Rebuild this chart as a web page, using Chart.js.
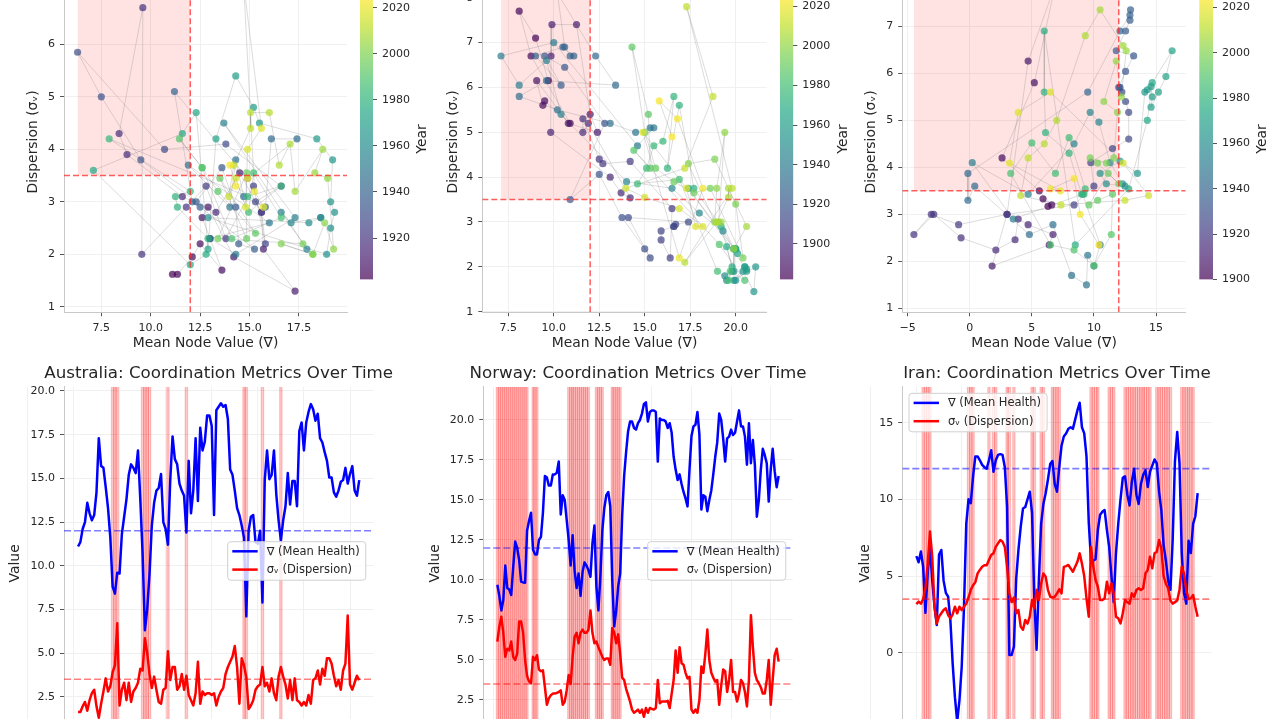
<!DOCTYPE html>
<html><head><meta charset="utf-8">
<script src="https://cdn.jsdelivr.net/npm/chart.js@4.4.1/dist/chart.umd.min.js"></script>
<style>
html,body{margin:0;padding:0;background:#fff;}
body{width:1280px;height:719px;overflow:hidden;position:relative;}
canvas{position:absolute;display:block;}
</style></head>
<body>
<canvas id="scAus" width="420" height="400" style="left:0px;top:-40px"></canvas>
<canvas id="scNor" width="420" height="400" style="left:420px;top:-40px"></canvas>
<canvas id="scIrn" width="420" height="400" style="left:850px;top:-40px"></canvas>
<canvas id="cbAus" width="90" height="340" style="left:350px;top:-40px"></canvas>
<canvas id="cbNor" width="90" height="340" style="left:770px;top:-40px"></canvas>
<canvas id="cbIrn" width="90" height="340" style="left:1189px;top:-40px"></canvas>
<canvas id="lnAus" width="420" height="440" style="left:0px;top:360px"></canvas>
<canvas id="lnNor" width="420" height="440" style="left:420px;top:360px"></canvas>
<canvas id="lnIrn" width="420" height="440" style="left:850px;top:360px"></canvas>
<script>
// ---------------- DATA ----------------
const AUS_FIRST_YEAR = 1902;
const NOR_FIRST_YEAR = 1882;
const IRN_FIRST_YEAR = 1900;

// Australia: mean node value (∇) and dispersion (σᵥ), one value per year
const AUS_V = [11.1,11.35,12.1,12.5,13.6,13.0,12.6,12.9,14.2,17.3,15.7,15.6,14.5,13.3,11.6,8.8,8.4,9.6,9.55,11.8,
12.8,13.8,15.2,15.8,15.6,15.3,16.6,13.8,10.7,6.3,7.5,9.5,12.3,13.6,14.3,14.45,15.25,12.5,12.1,11.2,
14.9,17.4,16.1,15.8,14.7,14.3,14.0,11.9,16.0,13.0,14.3,17.3,13.7,17.9,16.6,17.1,18.6,18.6,18.0,12.9,
18.9,19.1,19.3,19.1,19.2,18.4,15.5,15.2,14.3,13.3,12.9,12.3,11.6,7.1,12.0,12.8,12.9,11.35,11.25,12.0,
7.9,14.9,16.6,14.95,15.2,16.6,14.1,12.6,11.45,12.6,13.4,15.3,13.5,14.85,14.85,13.4,17.7,18.2,16.6,18.2,
18.8,19.25,18.95,18.3,18.7,17.3,17.05,16.5,16.0,15.05,15.05,14.2,13.95,14.3,14.8,14.9,15.6,14.7,15.25,15.7,
14.3,14.0,14.9];
const AUS_S = [1.62,1.62,1.95,2.2,1.7,2.3,2.7,2.9,1.95,1.3,2.1,2.8,3.55,2.8,3.1,3.9,4.3,6.7,2.0,2.9,
3.3,2.3,3.3,2.2,2.8,3.0,3.3,4.1,4.0,5.85,5.0,3.8,3.0,3.65,2.9,2.2,2.1,2.9,3.0,5.1,
3.45,4.2,4.2,2.9,3.1,3.8,2.9,3.7,2.6,2.3,2.0,2.7,4.5,2.1,2.8,2.6,2.7,2.7,2.6,2.7,
2.0,2.5,2.8,3.0,3.8,4.2,4.5,4.8,5.4,4.2,2.1,4.7,4.3,3.6,1.8,2.0,2.3,2.9,3.1,3.2,
4.2,3.1,3.3,2.8,3.55,2.7,2.3,3.65,4.2,3.65,3.2,2.4,3.45,2.3,3.55,2.3,2.2,2.0,2.2,2.0,
2.6,2.1,3.45,3.55,4.0,3.2,4.1,3.7,4.7,4.7,4.4,3.7,3.1,3.45,2.9,4.0,4.4,7.15,3.2,2.9,
3.3,3.7,3.45];
const AUS_CRISIS = [1917,1918,1919,1930,1931,1932,1933,1941,1949,1974,1975,1982,1990];

// Norway
const NOR_V = [9.7,9.0,8.1,8.75,10.9,9.5,9.4,9.06,10.8,12.4,12.0,11.25,9.9,9.85,9.83,13.1,13.7,14.2,11.9,11.6,
11.6,12.5,12.7,14.2,16.5,16.4,15.9,15.9,16.6,16.6,16.7,17.4,14.1,15.3,15.0,13.75,12.5,10.9,12.8,10.6,
9.5,10.4,9.0,10.5,11.1,10.9,10.6,10.2,12.3,13.4,9.6,8.1,10.2,13.1,14.5,15.3,15.5,14.6,10.0,7.1,
8.1,9.6,10.4,14.0,16.5,18.0,19.3,19.9,19.9,19.5,19.4,19.8,20.0,20.4,21.0,21.1,19.9,20.5,20.6,20.6,
20.5,17.4,20.1,20.0,20.0,19.9,19.5,19.8,19.2,17.7,16.9,16.25,16.6,16.0,15.5,15.1,14.6,16.9,19.0,19.6,
19.7,20.5,19.1,14.4,15.3,15.2,14.3,15.0,15.6,16.6,17.7,18.6,20.4,20.0,18.85,17.4,18.85,18.96,19.4,19.06,
19.2,19.9,20.6,19.6,19.6,18.96,17.2,19.8,17.3,18.75,17.2,13.96,15.0,16.9,18.2,17.8,17.3,14.9,16.9,18.2,
16.8,15.8,16.5];
const NOR_S = [6.15,7.1,7.7,6.7,5.2,5.7,5.6,6.15,5.2,5.0,5.4,7.4,7.4,6.7,5.0,4.0,3.65,3.54,5.2,5.0,
5.3,4.4,4.3,4.35,3.3,2.2,2.6,2.8,2.9,2.9,2.95,3.0,3.1,2.2,2.4,3.1,4.06,3.5,5.2,6.45,
6.7,6.05,6.7,6.9,6.7,6.7,6.9,8.1,6.7,6.05,6.15,5.8,5.5,5.2,5.0,5.1,5.1,4.7,7.0,6.7,
6.05,6.6,5.4,3.9,3.75,3.2,2.8,2.4,1.9,1.7,1.8,1.9,1.7,1.9,1.45,2.0,1.7,2.0,1.95,1.9,
2.0,3.75,2.3,2.4,2.4,2.4,2.45,2.0,2.9,3.75,5.6,4.2,5.8,4.8,4.7,4.2,3.85,3.95,1.9,1.7,
1.9,1.7,2.5,4.6,4.2,5.4,6.9,5.0,4.2,3.9,3.65,3.75,2.2,3.4,4.4,4.3,3.0,3.75,5.0,3.0,
3.0,2.4,2.9,3.75,3.55,3.0,2.1,3.75,7.8,5.8,4.2,3.75,3.55,3.3,2.9,2.9,3.75,5.0,2.2,3.75,
5.3,5.7,4.9];
const NOR_CRISIS = [1882,1883,1884,1885,1886,1887,1888,1889,1890,1891,1892,1893,1894,1895,1896,1897,1900,1901,1902,
1918,1919,1920,1921,1922,1923,1924,1925,1926,1927,1928,1932,1933,1934,1935,1940,1941,1942,1943,1944];

// Iran
const IRN_V = [6.3,5.9,6.6,5.6,2.6,5.2,6.9,4.7,3.0,1.8,6.4,6.7,4.7,3.9,3.65,2.1,-0.7,-2.9,-4.5,-3.1,
-0.9,3.0,8.4,10.0,9.75,11.5,12.8,12.8,12.55,12.25,12.1,12.0,12.55,13.2,11.8,12.55,12.9,12.95,12.9,12.1,
9.5,-0.15,-0.15,0.4,4.8,6.7,8.2,9.4,9.5,10.0,10.5,9.1,3.5,0.2,4.7,8.4,9.7,10.4,11.3,12.3,
12.5,11.0,10.5,12.1,13.5,14.1,14.3,14.6,14.7,14.6,15.2,15.8,16.3,14.7,14.3,12.8,8.5,6.0,6.0,6.1,
8.0,9.0,9.2,9.3,8.0,6.9,5.0,3.3,6.5,8.4,10.0,11.4,11.5,10.3,9.6,11.15,12.0,10.3,9.7,11.0,
11.6,11.9,10.8,11.8,12.2,12.6,12.35,10.5,9.3,7.0,6.0,4.7,4.1,7.35,12.5,14.4,12.35,6.5,3.9,3.2,
7.3,6.5,8.4,8.9,10.4];
const IRN_S = [3.17,3.33,3.2,3.5,4.2,5.8,7.9,6.26,3.0,1.9,2.35,2.57,2.78,2.9,2.46,2.24,2.5,3.0,2.57,3.0,
2.78,3.0,3.2,3.6,4.1,4.4,4.6,5.17,5.4,5.6,5.7,5.7,6.04,6.37,6.48,6.9,7.13,7.35,7.24,6.9,
5.6,3.87,3.3,3.6,2.57,2.78,1.7,1.5,2.13,1.9,2.35,3.43,2.9,4.1,3.43,4.5,5.17,4.96,4.1,3.65,
3.6,3.65,3.87,4.13,3.87,5.6,5.65,5.72,5.5,5.28,5.6,5.93,6.48,5.8,5.0,3.54,2.35,6.9,5.6,4.74,
4.3,3.43,3.43,3.54,4.63,3.87,4.52,3.87,2.35,2.24,1.91,2.57,3.43,3.3,3.2,3.87,3.65,4.09,4.2,4.09,
4.2,5.17,5.4,6.26,5.5,6.48,6.59,7.35,6.8,5.0,4.5,4.2,3.4,3.2,3.3,3.4,4.09,5.6,5.17,4.09,
3.5,3.54,3.76,3.0,2.35];
const IRN_CRISIS = [1903,1904,1905,1906,1923,1924,1925,1932,1934,1935,1940,1941,1943,1951,1952,1955,1956,
1960,1961,1962,1963,1977,1978,1979,1980,1985,1986,1987,1992,1993,1994,1995,1996,1997,1998,1999,2000,2001,
2002,2003,2006,2007,2008,2009,2010,2011,2012,2017,2018,2019,2020,2021,2022];

// Thresholds
const V_THRESHOLD = 12;
const S_THRESHOLD = 3.5;

// Tick values and labels
const AUS_SC_XTICKS = [7.5,10,12.5,15,17.5];
const AUS_SC_XLABELS = ['7.5','10.0','12.5','15.0','17.5'];
const NOR_SC_XTICKS = [7.5,10,12.5,15,17.5,20];
const NOR_SC_XLABELS = ['7.5','10.0','12.5','15.0','17.5','20.0'];
const IRN_SC_XTICKS = [-5,0,5,10,15];
const IRN_SC_XLABELS = ['\u22125','0','5','10','15'];
const SC_YTICKS = [1,2,3,4,5,6,7,8];
const SC_YLABELS = ['1','2','3','4','5','6','7','8'];
const AUS_CB_TICKS = [1920,1940,1960,1980,2000,2020];
const NOR_CB_TICKS = [1900,1920,1940,1960,1980,2000,2020];
const IRN_CB_TICKS = [1900,1920,1940,1960,1980,2000,2020];
const LN_YTICKS_A = [2.5,5,7.5,10,12.5,15,17.5,20];
const LN_YLABELS_A = ['2.5','5.0','7.5','10.0','12.5','15.0','17.5','20.0'];
const LN_YTICKS_I = [-5,0,5,10,15];
const LN_YLABELS_I = ['\u22125','0','5','10','15'];
const LN_XTICKS = [1880,1900,1920,1940,1960,1980,2000,2020];

// ---------------- STYLE / HELPERS ----------------
const FONT = "'DejaVu Sans', sans-serif";
const TXT = '#262626';
const GRID = '#f0f0f0';
const SPINE = '#c8c8c8';
const TICKC = '#555555';
Chart.defaults.font.family = FONT;
Chart.defaults.color = TXT;
Chart.defaults.animation = false;
Chart.defaults.responsive = false;
Chart.defaults.plugins.legend.display = false;
Chart.defaults.plugins.tooltip.enabled = false;

const VIRIDIS = [[68,1,84],[72,36,117],[65,68,135],[53,95,141],[42,120,142],[33,145,140],[34,168,132],[68,191,112],[122,209,81],[189,223,38],[253,231,37]];
function viridis(t, a){
  t = Math.max(0, Math.min(1, t));
  const p = t*10, i = Math.min(9, Math.floor(p)), f = p - i;
  const c0 = VIRIDIS[i], c1 = VIRIDIS[i+1];
  const c = c0.map((v,k)=>Math.round(v + (c1[k]-v)*f));
  return `rgba(${c[0]},${c[1]},${c[2]},${a})`;
}

function fixedAxis(values, labels, extra){
  return Object.assign({
    afterBuildTicks: ax => { ax.ticks = values.map(v => ({value: v})); },
    ticks: {autoSkip:false, maxRotation:0, minRotation:0, font:{size:11}, color:TXT, padding:5,
            callback: (v, i) => labels ? labels[i] : String(v)}
  }, extra);
}

const axTitle = {
  id: 'axTitle',
  afterDraw(chart, args, o){
    if (!o || !o.text) return;
    const ctx = chart.ctx, ca = chart.chartArea;
    ctx.save();
    ctx.font = `16.7px ${FONT}`;
    ctx.fillStyle = TXT; ctx.textAlign = 'center'; ctx.textBaseline = 'alphabetic';
    ctx.fillText(o.text, (ca.left + ca.right)/2, ca.top - 8.5);
    ctx.restore();
  }
};
const cbTitle = {
  id: 'cbTitle',
  afterDraw(chart, args, o){
    if (!o || !o.text) return;
    const ctx = chart.ctx, ca = chart.chartArea;
    ctx.save();
    ctx.translate(ca.right + o.offset, (ca.top + ca.bottom)/2);
    ctx.rotate(-Math.PI/2);
    ctx.font = `13.9px ${FONT}`;
    ctx.fillStyle = TXT; ctx.textAlign = 'center'; ctx.textBaseline = 'middle';
    ctx.fillText(o.text, 0, 0);
    ctx.restore();
  }
};
const crisisSpans = {
  id: 'crisisSpans',
  beforeDatasetsDraw(chart, args, o){
    if (!o || !o.years) return;
    const ctx = chart.ctx, ca = chart.chartArea, xs = chart.scales.x;
    ctx.save();
    ctx.beginPath(); ctx.rect(ca.left, ca.top, ca.right-ca.left, ca.bottom-ca.top); ctx.clip();
    o.years.forEach(y => {
      const x0 = xs.getPixelForValue(y - 0.5), x1 = xs.getPixelForValue(y + 0.5);
      ctx.fillStyle = 'rgba(255,0,0,0.2)';
      ctx.fillRect(x0, ca.top, x1 - x0, ca.bottom - ca.top);
      ctx.strokeStyle = 'rgba(255,0,0,0.2)'; ctx.lineWidth = 1.3;
      ctx.beginPath(); ctx.moveTo(x0, ca.top); ctx.lineTo(x0, ca.bottom);
      ctx.moveTo(x1, ca.top); ctx.lineTo(x1, ca.bottom); ctx.stroke();
    });
    ctx.restore();
  }
};
const boxLegend = {
  id: 'boxLegend',
  afterDraw(chart, args, o){
    if (!o || !o.show) return;
    const ctx = chart.ctx, ca = chart.chartArea;
    const items = chart.data.datasets.filter(d => d.label);
    ctx.save();
    ctx.font = `11.5px ${FONT}`;
    const tw = Math.max(...items.map(d => ctx.measureText(d.label).width));
    const x = ca.left + o.dx, y = ca.top + o.dy, w = 39 + tw + 6, h = 38.5, r = 3;
    ctx.beginPath();
    ctx.moveTo(x + r, y); ctx.lineTo(x + w - r, y); ctx.arcTo(x + w, y, x + w, y + r, r);
    ctx.lineTo(x + w, y + h - r); ctx.arcTo(x + w, y + h, x + w - r, y + h, r);
    ctx.lineTo(x + r, y + h); ctx.arcTo(x, y + h, x, y + h - r, r);
    ctx.lineTo(x, y + r); ctx.arcTo(x, y, x + r, y, r); ctx.closePath();
    ctx.fillStyle = 'rgba(255,255,255,0.8)'; ctx.fill();
    ctx.strokeStyle = '#d0d0d0'; ctx.lineWidth = 1; ctx.stroke();
    items.forEach((d, k) => {
      const cy = y + 9.6 + k*18.3;
      ctx.strokeStyle = d.borderColor; ctx.lineWidth = 2.5;
      ctx.beginPath(); ctx.moveTo(x + 4.6, cy); ctx.lineTo(x + 30, cy); ctx.stroke();
      ctx.fillStyle = TXT; ctx.textAlign = 'left'; ctx.textBaseline = 'middle';
      ctx.fillText(d.label, x + 39, cy + 0.5);
    });
    ctx.restore();
  }
};
Chart.register(axTitle, cbTitle, crisisSpans, boxLegend);

function gridOpts(){ return {color: GRID, lineWidth: 1, drawTicks: true, tickLength: 4, tickColor: TICKC, tickWidth: 1}; }

// ---------------- SCATTER ----------------
function makeScatter(id, V, S, g){
  const n = V.length;
  const pts = V.map((v, i) => ({x: v, y: S[i]}));
  const cols = V.map((_, i) => viridis(i/(n-1), 0.7));
  const vmin = Math.min(...V);
  return new Chart(document.getElementById(id), {
    type: 'scatter',
    data: {datasets: [
      {type:'line', data:[{x:vmin, y:g.ymax + 5},{x:V_THRESHOLD, y:g.ymax + 5}], fill:{value:S_THRESHOLD},
       backgroundColor:'rgba(255,0,0,0.11)', borderWidth:0, pointRadius:0, order:9},
      {type:'line', data:pts, borderColor:'rgba(110,110,110,0.3)', borderWidth:0.8, pointRadius:0, fill:false, order:8},
      {data:pts, backgroundColor:cols, borderWidth:0, pointRadius:3.6, order:7},
      {type:'line', data:[{x:V_THRESHOLD, y:g.ymin},{x:V_THRESHOLD, y:g.ymax + 5}], borderColor:'rgba(255,40,40,0.75)',
       borderWidth:1.5, borderDash:[6,3], pointRadius:0, fill:false, order:2},
      {type:'line', data:[{x:g.xmin, y:S_THRESHOLD},{x:g.xmax, y:S_THRESHOLD}], borderColor:'rgba(255,40,40,0.75)',
       borderWidth:1.5, borderDash:[6,3], pointRadius:0, fill:false, order:1}
    ]},
    options: {
      layout: {padding: g.pad},
      scales: {
        x: fixedAxis(g.xTicks, g.xLabels, {type:'linear', min:g.xmin, max:g.xmax,
             grid: gridOpts(), border:{display:true, color:SPINE},
             title:{display:true, text:'Mean Node Value (\u2207)', font:{size:13.9}, color:TXT, padding:0},
             afterFit: s => { s.height = 39; }}),
        y: fixedAxis(SC_YTICKS, SC_YLABELS, {type:'linear', min:g.ymin, max:g.ymax,
             grid: gridOpts(), border:{display:true, color:SPINE},
             title:{display:true, text:'Dispersion (\u03c3\u1d65)', font:{size:13.9}, color:TXT, padding:0},
             afterFit: s => { s.width = g.wY; }})
      }
    }
  });
}

function makeCbar(id, first, last, ticks, g){
  return new Chart(document.getElementById(id), {
    type: 'bar',
    data: {labels:['Year'], datasets:[{data:[[first, last]], borderWidth:0, barPercentage:1, categoryPercentage:1,
      backgroundColor: c => {
        const ca = c.chart.chartArea; if (!ca) return 'rgba(0,0,0,0)';
        const gr = c.chart.ctx.createLinearGradient(0, ca.bottom, 0, ca.top);
        VIRIDIS.forEach((s, k) => gr.addColorStop(k/10, `rgba(${s[0]},${s[1]},${s[2]},0.7)`));
        return gr;
      }}]},
    options: {
      layout: {padding: g.pad},
      scales: {
        x: {display:false},
        y: fixedAxis(ticks, ticks.map(String), {position:'right', min:first, max:last,
             grid:{drawOnChartArea:false, drawTicks:true, tickLength:4, tickColor:TICKC},
             border:{display:false},
             afterFit: s => { s.width = g.wR; }})
      },
      plugins: {cbTitle: {text:'Year', offset:49.7}}
    }
  });
}

// ---------------- LINES ----------------
function makeLine(id, V, S, first, crisis, g){
  const n = V.length, last = first + n - 1, span = last - first;
  const xmin = first - 0.05*span, xmax = last + 0.05*span;
  const years = V.map((_, i) => first + i);
  return new Chart(document.getElementById(id), {
    type: 'line',
    data: {datasets: [
      {label:'\u2207 (Mean Health)', data: years.map((y, i) => ({x:y, y:V[i]})), borderColor:'#0000ff',
       borderWidth:2.5, pointRadius:0, borderJoinStyle:'round', fill:false, order:4},
      {label:'\u03c3\u1d65 (Dispersion)', data: years.map((y, i) => ({x:y, y:S[i]})), borderColor:'#ff0000',
       borderWidth:2.5, pointRadius:0, borderJoinStyle:'round', fill:false, order:3},
      {data:[{x:xmin, y:V_THRESHOLD},{x:xmax, y:V_THRESHOLD}], borderColor:'rgba(0,0,255,0.5)', borderWidth:1.7,
       borderDash:[7,3], pointRadius:0, fill:false, order:2},
      {data:[{x:xmin, y:S_THRESHOLD},{x:xmax, y:S_THRESHOLD}], borderColor:'rgba(255,0,0,0.5)', borderWidth:1.7,
       borderDash:[7,3], pointRadius:0, fill:false, order:1}
    ]},
    options: {
      layout: {padding: g.pad},
      scales: {
        x: fixedAxis(LN_XTICKS, null, {type:'linear', min:xmin, max:xmax, grid: gridOpts(),
             border:{display:true, color:SPINE}, afterFit: s => { s.height = 30; }}),
        y: fixedAxis(g.yTicks, g.yLabels, {type:'linear', min:g.ymin, max:g.ymax, grid: gridOpts(),
             border:{display:true, color:SPINE},
             title:{display:true, text:'Value', font:{size:13.9}, color:TXT, padding:0},
             afterFit: s => { s.width = g.wY; }})
      },
      plugins: {
        axTitle: {text: g.title},
        crisisSpans: {years: crisis},
        boxLegend: {show:true, dx:g.lx, dy:g.ly}
      }
    }
  });
}

// ---------------- BUILD ----------------
makeScatter('scAus', AUS_V, AUS_S, {xmin:5.613, xmax:19.928, ymin:0.895, ymax:7.387,
  xTicks:AUS_SC_XTICKS, xLabels:AUS_SC_XLABELS, wY:39, pad:{left:25, right:73, top:5, bottom:8.7}});
makeScatter('scNor', NOR_V, NOR_S, {xmin:6.071, xmax:21.704, ymin:0.987, ymax:8.582,
  xTicks:NOR_SC_XTICKS, xLabels:NOR_SC_XLABELS, wY:37.35, pad:{left:24.95, right:73.3, top:5, bottom:8.7}});
makeScatter('scIrn', IRN_V, IRN_S, {xmin:-5.435, xmax:17.392, ymin:0.9165, ymax:8.163,
  xTicks:IRN_SC_XTICKS, xLabels:IRN_SC_XLABELS, wY:39, pad:{left:13.3, right:84.3, top:5, bottom:8.7}});

makeCbar('cbAus', AUS_FIRST_YEAR, AUS_FIRST_YEAR + AUS_V.length - 1, AUS_CB_TICKS, {wR:67, pad:{left:10, right:0, top:38.5, bottom:20.5}});
makeCbar('cbNor', NOR_FIRST_YEAR, NOR_FIRST_YEAR + NOR_V.length - 1, NOR_CB_TICKS, {wR:66.7, pad:{left:10, right:0, top:38.5, bottom:20.5}});
makeCbar('cbIrn', IRN_FIRST_YEAR, IRN_FIRST_YEAR + IRN_V.length - 1, IRN_CB_TICKS, {wR:66, pad:{left:10.3, right:0, top:38.5, bottom:20.5}});

makeLine('lnAus', AUS_V, AUS_S, AUS_FIRST_YEAR, AUS_CRISIS, {title:'Australia: Coordination Metrics Over Time',
  ymin:0.022, ymax:20.246, yTicks:LN_YTICKS_A, yLabels:LN_YLABELS_A, wY:57.35,
  pad:{left:6.65, right:46.7, top:26.7, bottom:30}, lx:163.7, ly:155});
makeLine('lnNor', NOR_V, NOR_S, NOR_FIRST_YEAR, NOR_CRISIS, {title:'Norway: Coordination Metrics Over Time',
  ymin:0.0, ymax:22.08, yTicks:LN_YTICKS_A, yLabels:LN_YLABELS_A, wY:56.65,
  pad:{left:6.65, right:47.3, top:26.7, bottom:30}, lx:164.4, ly:155});
makeLine('lnIrn', IRN_V, IRN_S, IRN_FIRST_YEAR, IRN_CRISIS, {title:'Iran: Coordination Metrics Over Time',
  ymin:-5.694, ymax:17.348, yTicks:LN_YTICKS_I, yLabels:LN_YLABELS_I, wY:45.65,
  pad:{left:6.65, right:58.3, top:26.7, bottom:30}, lx:6.7, ly:6.6});
</script>
</body></html>
